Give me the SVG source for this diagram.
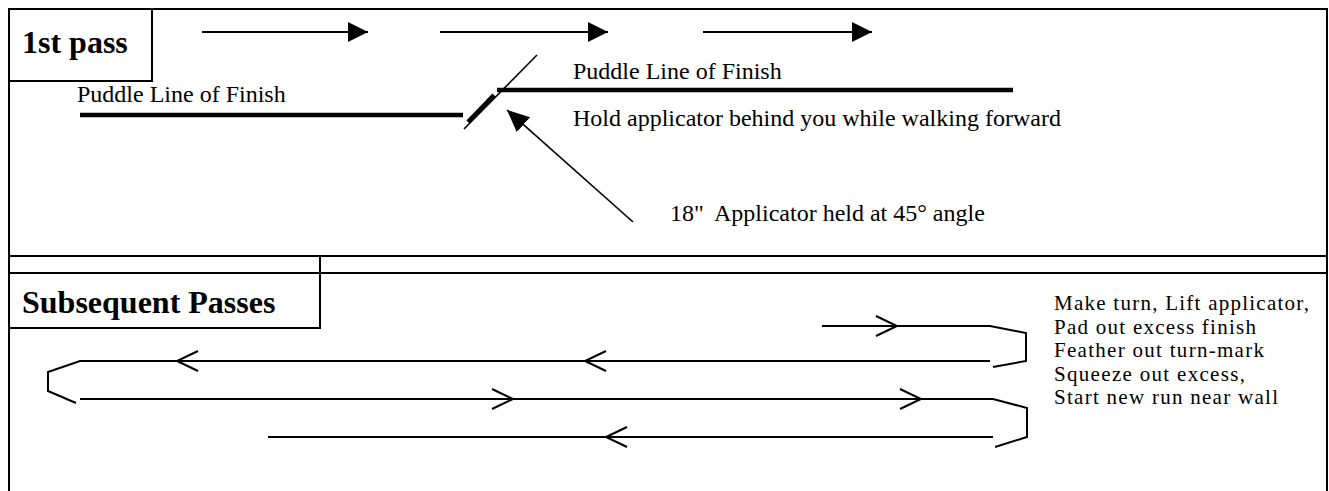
<svg xmlns="http://www.w3.org/2000/svg" width="1329" height="491" viewBox="0 0 1329 491">
<style>
.frame{fill:none;stroke:#000;stroke-width:2}
.t{font-family:"Liberation Serif","Times New Roman",serif;font-size:24px;fill:#000}
.n{font-family:"Liberation Serif","Times New Roman",serif;font-size:21px;fill:#000}
.h{font-family:"Liberation Serif","Times New Roman",serif;font-size:32px;font-weight:bold;fill:#000}
.thick{stroke:#000;stroke-width:4.5;fill:none}
.thin{stroke:#000;stroke-width:1.6;fill:none}
.run{stroke:#000;stroke-width:2;fill:none}
.arr{stroke:#000;stroke-width:2;fill:none}
</style>
<defs>
<marker id="ah" markerUnits="userSpaceOnUse" markerWidth="22" markerHeight="22" refX="20" refY="10" orient="auto"><path d="M0,0 L20,10 L0,20 z" fill="#000"/></marker>
<marker id="ah2" markerUnits="userSpaceOnUse" markerWidth="24" markerHeight="22" refX="22" refY="10" orient="auto"><path d="M0,0 L22,10 L0,20 z" fill="#000"/></marker>
<path id="chev" d="M-21,-10 L0,0 L-21,10"/>
</defs>

<g id="frame">
<path class="frame" d="M9,491 V9 H1327 V491"/>
<path class="frame" d="M9,256 H1327 M9,273 H1327"/>
</g>

<g id="first-pass-label">
<path class="frame" d="M9,81 H152 V9"/>
<text class="h" x="22" y="53">1st pass</text>
</g>

<g id="subsequent-label">
<path class="frame" d="M320,256 V328 H9"/>
<text class="h" x="22" y="313">Subsequent Passes</text>
</g>

<g id="puddle-left">
<line class="thick" x1="80" y1="115" x2="463" y2="115"/>
<text class="t" x="77" y="102">Puddle Line of Finish</text>
</g>

<g id="puddle-right">
<line class="thick" x1="497" y1="90" x2="1013" y2="90"/>
<text class="t" x="573" y="79">Puddle Line of Finish</text>
<text class="t" x="573" y="126">Hold applicator behind you while walking forward</text>
</g>

<g id="applicator">
<line class="thin" x1="464" y1="129" x2="537" y2="55"/>
<line class="thick" x1="468" y1="122" x2="494" y2="95"/>
<text class="t" x="670" y="221">18"<tspan x="714">Applicator held at 45° angle</tspan></text>
</g>

<g id="turn-notes">
<text class="n" x="1054" y="310" textLength="255" lengthAdjust="spacing">Make turn, Lift applicator,</text>
<text class="n" x="1054" y="333.5" textLength="202" lengthAdjust="spacing">Pad out excess finish</text>
<text class="n" x="1054" y="357" textLength="210" lengthAdjust="spacing">Feather out turn-mark</text>
<text class="n" x="1054" y="380.5" textLength="191" lengthAdjust="spacing">Squeeze out excess,</text>
<text class="n" x="1054" y="404" textLength="224" lengthAdjust="spacing">Start new run near wall</text>
</g>

<g id="connectors">
<line class="arr" x1="202" y1="32" x2="368" y2="32" marker-end="url(#ah)"/>
<line class="arr" x1="440" y1="32" x2="608" y2="32" marker-end="url(#ah)"/>
<line class="arr" x1="703" y1="32" x2="872" y2="32" marker-end="url(#ah)"/>
<line class="thin" x1="633" y1="222" x2="507" y2="110" marker-end="url(#ah2)"/>

<path class="run" d="M822,326 H990 L1026,333 V361 L993,367"/>
<path class="run" d="M990,361 H80 L48,372 V391 L76,403"/>
<path class="run" d="M80,399 H993 L1027,408 V437 L995,447"/>
<path class="run" d="M268,437 H993"/>
<use href="#chev" class="run" transform="translate(897,326)"/>
<use href="#chev" class="run" transform="translate(177,361) scale(-1,1)"/>
<use href="#chev" class="run" transform="translate(585,361) scale(-1,1)"/>
<use href="#chev" class="run" transform="translate(513,399)"/>
<use href="#chev" class="run" transform="translate(921,399)"/>
<use href="#chev" class="run" transform="translate(606,437) scale(-1,1)"/>
</g>
</svg>
